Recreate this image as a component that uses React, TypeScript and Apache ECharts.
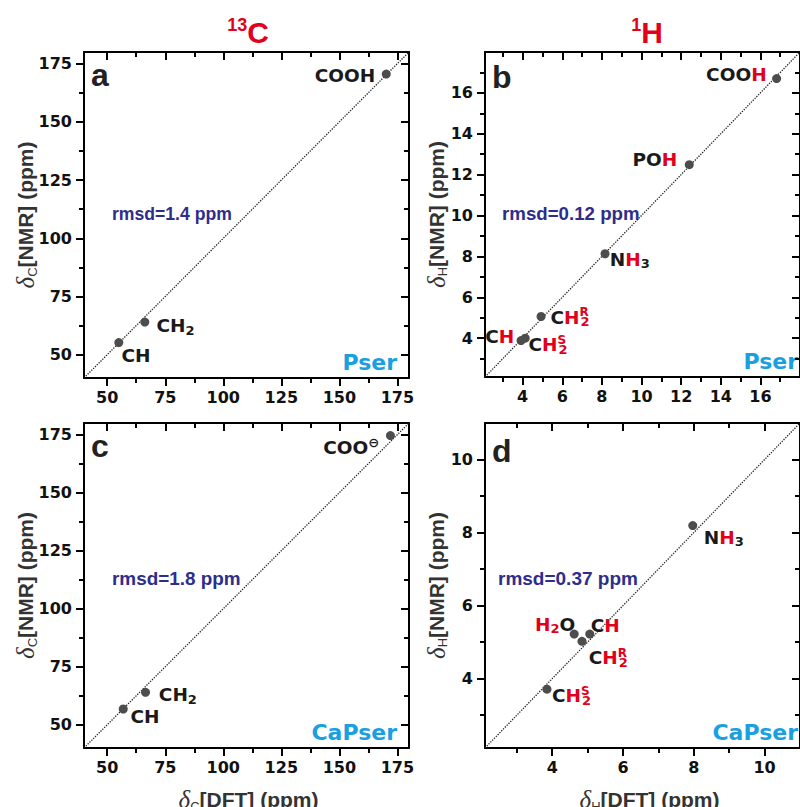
import React, { useEffect, useRef } from "react";
import * as echarts from "echarts";

// ---------- data ----------
// Panel a: 13C, Pser
const aLabels = ["COOH", "CH2", "CH"];
const aDFT = [170.2, 66.2, 55.0];
const aNMR = [170.5, 64.0, 55.2];
// Panel b: 1H, Pser
const bLabels = ["COOH", "POH", "NH3", "CH2R", "CH", "CH2S"];
const bDFT = [16.82, 12.41, 8.16, 4.93, 3.92, 4.13];
const bNMR = [16.7, 12.49, 8.13, 5.06, 3.88, 4.0];
// Panel c: 13C, CaPser
const cLabels = ["COO⊖", "CH2", "CH"];
const cDFT = [172.0, 66.5, 56.9];
const cNMR = [174.6, 64.0, 56.8];
// Panel d: 1H, CaPser
const dLabels = ["NH3", "H2O", "CH", "CH2R", "CH2S"];
const dDFT = [7.97, 4.62, 5.06, 4.84, 3.85];
const dNMR = [8.19, 5.22, 5.22, 5.02, 3.71];

const rmsdTexts = ["rmsd=1.4 ppm", "rmsd=0.12 ppm", "rmsd=1.8 ppm", "rmsd=0.37 ppm"];
const sampleNames = ["Pser", "Pser", "CaPser", "CaPser"];
const panelLetters = ["a", "b", "c", "d"];

// tick values
const cTicks = [50, 75, 100, 125, 150, 175];
const cMinor = [62.5, 87.5, 112.5, 137.5, 162.5];
const bTicks = [4, 6, 8, 10, 12, 14, 16];
const bMinor = [3, 5, 7, 9, 11, 13, 15, 17];
const dTicks = [4, 6, 8, 10];
const dMinor = [3, 5, 7, 9];

// ---------- label placement (side, dx from point, dy of text centre) ----------
const aPlace: [string, number, number][] = [["l", 11, 1], ["r", 11.7, 3.5], ["r", 2.7, 13]];
const bPlace: [string, number, number][] = [["l", 10, -4], ["l", 12, -5.6], ["r", 4.7, 5.4], ["r", 9.4, 1], ["l", 6.7, -3.7], ["r", 3.3, 6.7]];
const cPlace: [string, number, number][] = [["l", 11.3, 11.7], ["r", 13.3, 2.3], ["r", 7.3, 7.4]];
const dPlace: [string, number, number][] = [["r", 11, 11.4], ["l", -1, -9.7], ["r", 1, -9], ["r", 6.7, 16.3], ["r", 5, 6.7]];

const RED = "#e2001a";
const INK = "#1a1a1a";
const BLUE = "#1a9fe0";
const NAVY = "#2e2d8c";
const DOT = "#4d4d4d";
const SANS = "Liberation Sans";
const WIDE = "DejaVu Sans";

function richName(name: string, hRed: boolean): string {
  switch (name) {
    case "COOH": return hRed ? "{k|COO}{r|H}" : "{k|COOH}";
    case "POH": return "{k|PO}{r|H}";
    case "NH3": return "{k|N}{r|H}{ks|3}";
    case "CH2R": return "{k|C}{r|H}{rp|R}{rs|2}";
    case "CH2S": return "{k|C}{r|H}{rp|S}{rs|2}";
    case "CH": return hRed ? "{k|C}{r|H}" : "{k|CH}";
    case "CH2": return "{k|CH}{ks|2}";
    case "H2O": return "{r|H}{rs|2}{k|O}";
    case "COO⊖": return "{k|COO}{kp|⊖}";
    default: return "{k|" + name + "}";
  }
}

const labelRich = {
  k: { color: INK, opacity: 1, fontFamily: WIDE, fontWeight: "bold", fontSize: 18.5, lineHeight: 22 },
  r: { color: RED, opacity: 1, fontFamily: WIDE, fontWeight: "bold", fontSize: 18.5, lineHeight: 22 },
  ks: { color: INK, opacity: 1, fontFamily: WIDE, fontWeight: "bold", fontSize: 13, lineHeight: 9, verticalAlign: "bottom" },
  rs: { color: RED, opacity: 1, fontFamily: WIDE, fontWeight: "bold", fontSize: 13, lineHeight: 9, verticalAlign: "bottom" },
  rp: { color: RED, opacity: 1, fontFamily: WIDE, fontWeight: "bold", fontSize: 12, lineHeight: 3, verticalAlign: "top", width: 1, align: "left" },
  kp: { color: INK, opacity: 1, fontFamily: WIDE, fontWeight: "bold", fontSize: 13, lineHeight: 2, verticalAlign: "top" },
};

const SYM = 9;

const panels = [
  { grid: { left: 84, top: 52, width: 325, height: 326 }, min: 40, max: 180, major: cTicks, minor: cMinor, names: aLabels, xs: aDFT, ys: aNMR, place: aPlace, hRed: false, nuc: "C", xTitle: false },
  { grid: { left: 485, top: 52, width: 325, height: 325 }, min: 2.1, max: 18, major: bTicks, minor: bMinor, names: bLabels, xs: bDFT, ys: bNMR, place: bPlace, hRed: true, nuc: "H", xTitle: false },
  { grid: { left: 84, top: 423, width: 325, height: 325 }, min: 40, max: 180, major: cTicks, minor: cMinor, names: cLabels, xs: cDFT, ys: cNMR, place: cPlace, hRed: false, nuc: "C", xTitle: true },
  { grid: { left: 485, top: 423, width: 325, height: 325 }, min: 2.1, max: 11, major: dTicks, minor: dMinor, names: dLabels, xs: dDFT, ys: dNMR, place: dPlace, hRed: true, nuc: "H", xTitle: true },
];

function makeAxes(dim: "x" | "y", gi: number, min: number, max: number, major: number[], minor: number[]) {
  const pos1 = dim === "x" ? "bottom" : "left";
  const pos2 = dim === "x" ? "top" : "right";
  const line = { show: true, onZero: false, lineStyle: { color: "#000", width: 2 } };
  const base = { type: "value", gridIndex: gi, min, max, splitLine: { show: false }, minorTick: { show: false } };
  const tickStyle = { color: "#000", width: 2 };
  return [
    {
      ...base, position: pos1, axisLine: line,
      axisTick: { show: true, inside: false, length: 8, customValues: major, lineStyle: tickStyle },
      axisLabel: { show: true, customValues: major, margin: dim === "x" ? 11 : 12, fontFamily: WIDE, fontWeight: "bold", fontSize: 16, color: "#111" },
    },
    {
      ...base, position: pos1, axisLine: { show: false, onZero: false },
      axisTick: { show: true, inside: false, length: 5, customValues: minor, lineStyle: tickStyle },
      axisLabel: { show: false },
    },
    {
      ...base, position: pos2, axisLine: line,
      axisTick: { show: true, inside: true, length: 8, customValues: major, lineStyle: tickStyle },
      axisLabel: { show: false },
    },
    {
      ...base, position: pos2, axisLine: { show: false, onZero: false },
      axisTick: { show: true, inside: true, length: 5, customValues: minor, lineStyle: tickStyle },
      axisLabel: { show: false },
    },
  ];
}

function axisTitleRich(nuc: string, which: string) {
  return {
    text: "{d|δ}{s|" + nuc + "}{t|[" + which + "] (ppm)}",
    rich: {
      d: { fontFamily: "Liberation Serif", fontStyle: "italic", fontSize: 25, lineHeight: 26, fill: "#333" },
      s: { fontFamily: SANS, fontSize: 13, lineHeight: 12, verticalAlign: "bottom", fill: "#333" },
      t: { fontFamily: SANS, fontWeight: "bold", fontSize: 21, lineHeight: 26, fill: "#333" },
    },
  };
}

function buildOption() {
  const grids: any[] = [];
  const xAxes: any[] = [];
  const yAxes: any[] = [];
  const series: any[] = [];
  const graphics: any[] = [];

  panels.forEach((p, i) => {
    grids.push({ ...p.grid, containLabel: false });
    xAxes.push(...makeAxes("x", i, p.min, p.max, p.major, p.minor));
    yAxes.push(...makeAxes("y", i, p.min, p.max, p.major, p.minor));
    series.push({
      type: "line",
      xAxisIndex: i * 4,
      yAxisIndex: i * 4,
      data: [[p.min, p.min], [p.max, p.max]],
      showSymbol: false,
      silent: true,
      lineStyle: { type: "dotted", width: 1.3, color: "#222" },
      z: 1,
    });
    series.push({
      type: "scatter",
      xAxisIndex: i * 4,
      yAxisIndex: i * 4,
      symbol: "circle",
      symbolSize: SYM,
      itemStyle: { color: DOT, opacity: 1 },
      z: 3,
      label: { show: true, opacity: 1, fontFamily: WIDE, fontWeight: "bold", fontSize: 18, color: INK, rich: labelRich },
      data: p.xs.map((x, j) => {
        const [side, dx, dy] = p.place[j];
        return {
          value: [x, p.ys[j]],
          label: {
            show: true,
            position: side === "l" ? "left" : "right",
            distance: 0,
            offset: side === "l" ? [SYM / 2 - dx, dy] : [dx - SYM / 2, dy],
            formatter: richName(p.names[j], p.hRed),
          },
        };
      }),
    });

    const g = p.grid;
    const right = g.left + g.width;
    const bottom = g.top + g.height;
    // panel letter
    const letterBase = [86, 88, 457, 461.5][i];
    graphics.push({
      type: "text", x: g.left + 7, y: letterBase - 11,
      style: { text: panelLetters[i], fontFamily: SANS, fontWeight: "bold", fontSize: 32, fill: "#222", align: "left", verticalAlign: "middle" },
    });
    // rmsd
    const rmsdPos = [[112, 214, 17.6], [502, 213, 18.7], [112, 578, 18.9], [498, 578, 19]][i];
    graphics.push({
      type: "text", x: rmsdPos[0], y: rmsdPos[1],
      style: { text: rmsdTexts[i], fontFamily: SANS, fontWeight: "bold", fontSize: rmsdPos[2], fill: NAVY, align: "left", verticalAlign: "middle" },
    });
    // sample name
    graphics.push({
      type: "text", x: right - 12, y: bottom - 15.6,
      style: { text: sampleNames[i], fontFamily: WIDE, fontWeight: "bold", fontSize: 22, fill: BLUE, align: "right", verticalAlign: "middle" },
    });
    // y axis title
    const yt = axisTitleRich(p.nuc, "NMR");
    graphics.push({
      type: "text", x: i % 2 === 0 ? 25.5 : 436, y: g.top + g.height / 2, rotation: Math.PI / 2,
      style: { ...yt, align: "center", verticalAlign: "middle" },
    });
    if (p.xTitle) {
      const xt = axisTitleRich(p.nuc, "DFT");
      graphics.push({
        type: "text", x: g.left + g.width / 2 + 2, y: 799.5,
        style: { ...xt, align: "center", verticalAlign: "middle" },
      });
    }
  });

  // column titles
  const titleRich = (sup: string, el: string) => ({
    text: "{s|" + sup + "}{b|" + el + "}",
    rich: {
      s: { fontFamily: SANS, fontWeight: "bold", fontSize: 18, lineHeight: 12, verticalAlign: "top", fill: RED },
      b: { fontFamily: SANS, fontWeight: "bold", fontSize: 30, lineHeight: 34, fill: RED },
    },
    align: "center",
    verticalAlign: "middle",
  });
  graphics.push({ type: "text", x: 248, y: 32.5, style: titleRich("13", "C") });
  graphics.push({ type: "text", x: 647, y: 32.5, style: titleRich("1", "H") });

  return {
    animation: false,
    backgroundColor: "#ffffff",
    grid: grids,
    xAxis: xAxes,
    yAxis: yAxes,
    series,
    graphic: { elements: graphics },
  };
}

export default function App() {
  const ref = useRef<HTMLDivElement>(null);
  useEffect(() => {
    const chart = echarts.init(ref.current!, null, { renderer: "svg" });
    chart.setOption(buildOption() as any);
    return () => chart.dispose();
  }, []);
  return <div ref={ref} style={{ position: "absolute", left: 0, top: 0, width: 800, height: 807 }} />;
}
